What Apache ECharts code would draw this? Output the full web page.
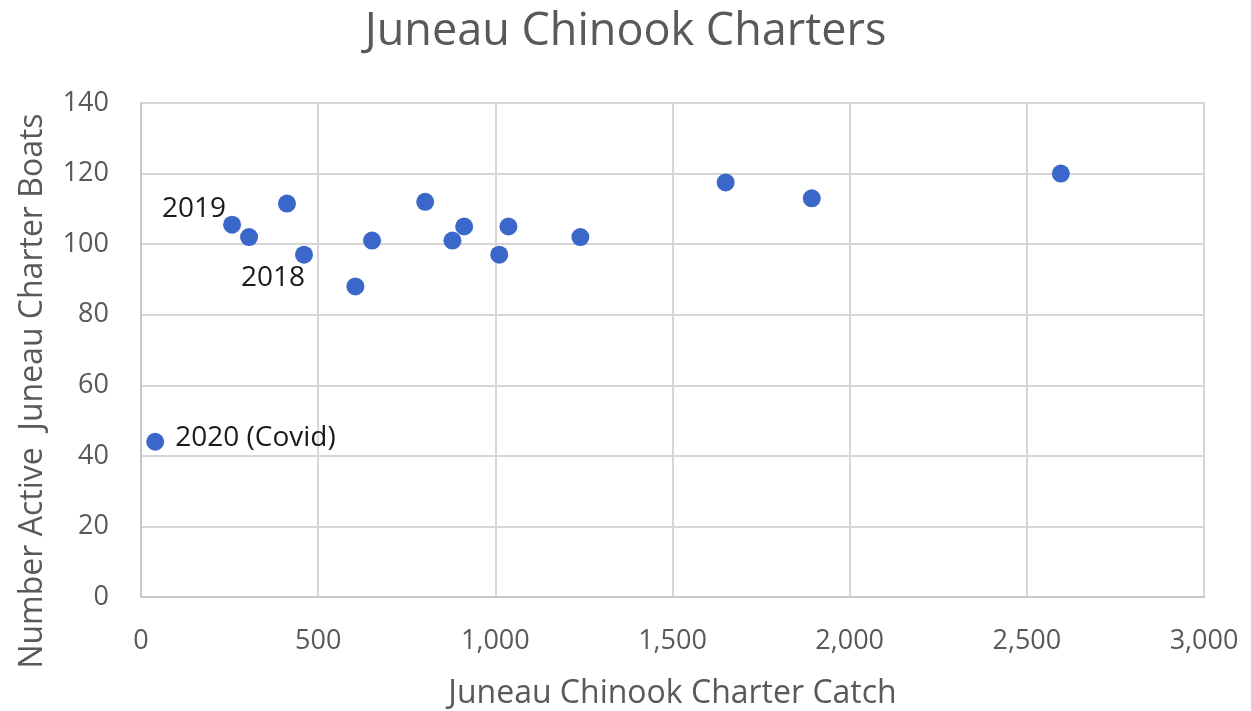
<!DOCTYPE html>
<html>
<head>
<meta charset="utf-8">
<style>
  html, body { margin: 0; padding: 0; background: #ffffff; }
  #chart { width: 1251px; height: 711px; }
</style>
<script src="https://cdn.jsdelivr.net/npm/echarts@6/dist/echarts.min.js"></script>
</head>
<body>
<div id="chart"></div>
<script>
// Juneau chinook charter catch vs. number of active charter boats, one point per year
const catchValues = [40, 257, 305, 412, 460, 605, 652, 802, 879, 912, 1011, 1037, 1240, 1650, 1893, 2596];
const boatValues  = [44, 105.5, 102, 111.5, 97, 88, 101, 112, 101, 105, 97, 105, 102, 117.5, 113, 120];
const pointNames  = ['2020 (Covid)', '2019', '', '', '2018', '', '', '', '', '', '', '', '', '', '', ''];
const xTicks = [0, 500, 1000, 1500, 2000, 2500, 3000];
const yTicks = [0, 20, 40, 60, 80, 100, 120, 140];

const FONT = '"Open Sans", "Noto Sans", sans-serif';

// label placement for the annotated years
const labelStyle = {
  '2020 (Covid)': { position: 'right', offset: [6, -4] },
  '2019': { position: 'left', offset: [8, -16] },
  '2018': { position: 'bottom', offset: [-31, -5] }
};

const points = catchValues.map((x, i) => {
  const name = pointNames[i];
  const item = { value: [x, boatValues[i]], name: name };
  if (name) {
    item.label = Object.assign({
      show: true,
      formatter: name,
      color: '#1a1a1a',
      fontSize: 28,
      fontFamily: FONT
    }, labelStyle[name]);
  }
  return item;
});

const chart = echarts.init(document.getElementById('chart'), null, { renderer: 'canvas' });
chart.setOption({
  animation: false,
  backgroundColor: '#ffffff',
  title: {
    text: 'Juneau Chinook Charters',
    left: 'center',
    top: 5,
    textStyle: { fontFamily: FONT, fontSize: 45, fontWeight: 'normal', color: '#595959' }
  },
  grid: { left: 141, right: 47, top: 103, bottom: 114, containLabel: false, outerBoundsMode: 'none' },
  xAxis: {
    type: 'value',
    min: xTicks[0],
    max: xTicks[xTicks.length - 1],
    interval: 500,
    name: 'Juneau Chinook Charter Catch',
    nameLocation: 'middle',
    nameGap: 81,
    nameTextStyle: { fontFamily: FONT, fontSize: 32, color: '#595959' },
    axisLine: { show: true, lineStyle: { color: '#c8c8c8', width: 2 } },
    axisTick: { show: false },
    axisLabel: {
      margin: 31,
      fontFamily: FONT,
      fontSize: 27,
      color: '#595959',
      formatter: v => v.toLocaleString('en-US')
    },
    splitLine: { show: true, lineStyle: { color: '#d6d6d6', width: 2 } }
  },
  yAxis: {
    type: 'value',
    min: yTicks[0],
    max: yTicks[yTicks.length - 1],
    interval: 20,
    axisLine: { show: true, lineStyle: { color: '#c8c8c8', width: 2 } },
    axisTick: { show: false },
    axisLabel: { margin: 32, fontFamily: FONT, fontSize: 27, color: '#595959' },
    splitLine: { show: true, lineStyle: { color: '#d6d6d6', width: 2 } }
  },
  graphic: [
    {
      type: 'rect',
      shape: { x: 141, y: 103, width: 1063, height: 494 },
      style: { fill: 'none', stroke: '#d0d0d0', lineWidth: 2 },
      silent: true
    },
    {
      type: 'text',
      x: 33,
      y: 391,
      rotation: Math.PI / 2,
      style: {
        text: 'Number Active  Juneau Charter Boats',
        fontFamily: FONT,
        fontSize: 32,
        fill: '#595959',
        textAlign: 'center',
        textVerticalAlign: 'middle'
      }
    }
  ],
  series: [{
    type: 'scatter',
    symbol: 'circle',
    symbolSize: 18,
    itemStyle: { color: '#3a67c9', opacity: 1 },
    data: points
  }]
});
</script>
</body>
</html>
